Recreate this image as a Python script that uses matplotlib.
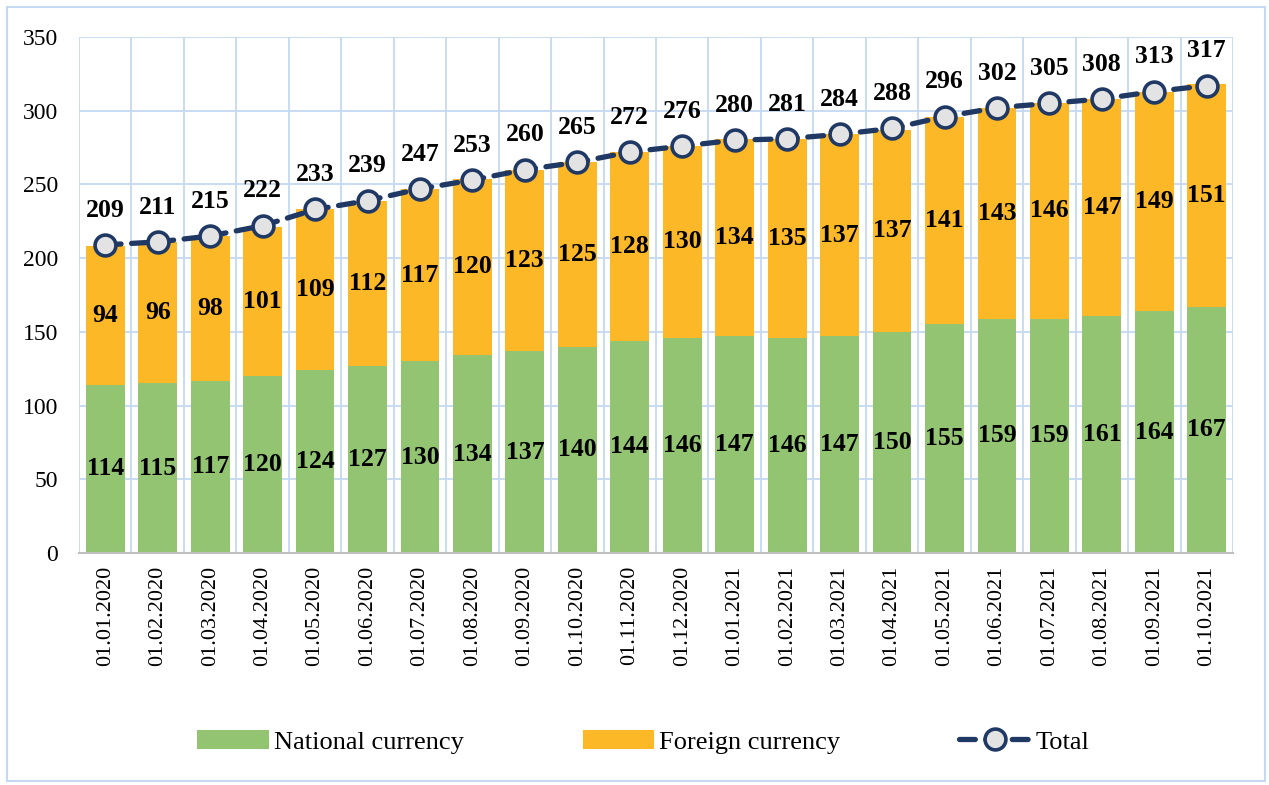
import matplotlib.pyplot as plt
import matplotlib.patches as mpatches
import numpy as np

dates = ['01.01.2020', '01.02.2020', '01.03.2020', '01.04.2020', '01.05.2020', '01.06.2020',
         '01.07.2020', '01.08.2020', '01.09.2020', '01.10.2020', '01.11.2020', '01.12.2020',
         '01.01.2021', '01.02.2021', '01.03.2021', '01.04.2021', '01.05.2021', '01.06.2021',
         '01.07.2021', '01.08.2021', '01.09.2021', '01.10.2021']
national = [114, 115, 117, 120, 124, 127, 130, 134, 137, 140, 144, 146,
            147, 146, 147, 150, 155, 159, 159, 161, 164, 167]
foreign = [94, 96, 98, 101, 109, 112, 117, 120, 123, 125, 128, 130,
           134, 135, 137, 137, 141, 143, 146, 147, 149, 151]
total = [209, 211, 215, 222, 233, 239, 247, 253, 260, 265, 272, 276,
         280, 281, 284, 288, 296, 302, 305, 308, 313, 317]

plt.rcParams['font.family'] = ['Liberation Serif', 'DejaVu Serif']

GREEN = '#93C472'
ORANGE = '#FDB827'
NAVY = '#1F3864'
GRID = '#C5D9F1'

fig = plt.figure(figsize=(12.69, 7.85), dpi=100)
ax = fig.add_axes([79/1269, 1-553/785, (1233-79)/1269, (553-37)/785])

x = np.arange(len(dates))
w = 0.74
b1 = ax.bar(x, national, w, color=GREEN, label='National currency', zorder=2)
b2 = ax.bar(x, foreign, w, bottom=national, color=ORANGE, label='Foreign currency', zorder=2)
ln, = ax.plot(x, total, color=NAVY, lw=3.8, linestyle=(0, (3.0, 2.0)), dash_capstyle='round',
              marker='o', ms=15, mfc='#E3E3E3', mec=NAVY, mew=2.6, label='Total', zorder=4)

for i in range(len(x)):
    ax.text(x[i], national[i]/2, str(national[i]), ha='center', va='center',
            fontsize=18.5, fontweight='bold', zorder=5)
    ax.text(x[i], national[i] + foreign[i]/2, str(foreign[i]), ha='center', va='center',
            fontsize=18.5, fontweight='bold', zorder=5)
    ax.annotate(str(total[i]), (x[i], total[i]), xytext=(0, 25), textcoords='offset points',
                ha='center', va='center', fontsize=18.5, fontweight='bold', zorder=5)

ax.set_xlim(-0.5, len(x) - 0.5)
ax.set_ylim(0, 350)
ax.set_yticks(np.arange(0, 351, 50))
ax.set_xticks(x)
ax.set_xticklabels(dates, rotation=90, fontsize=16)
ax.set_xticks(np.arange(-0.5, len(x), 1), minor=True)
ax.tick_params(axis='y', length=0, pad=15, labelsize=17)
ax.tick_params(axis='x', which='major', length=0, pad=9)
ax.tick_params(axis='x', which='minor', length=0)
ax.grid(axis='y', color=GRID, lw=1.3, zorder=0)
ax.grid(axis='x', which='minor', color=GRID, lw=1.3, zorder=0)
ax.grid(axis='x', which='major', visible=False)
for s in ['top', 'right', 'left']:
    ax.spines[s].set_visible(False)
ax.spines['bottom'].set_color('#BFBFBF')
ax.spines['bottom'].set_linewidth(1.5)
ax.spines['bottom'].set_zorder(3)

fig.legend([b1, b2, ln], ['National currency', 'Foreign currency', 'Total'],
           loc='center', bbox_to_anchor=(0.507, 0.055), ncol=3, frameon=False,
           fontsize=19, handlelength=2.7, handletextpad=0.2, columnspacing=4.5)

fig.patches.append(mpatches.Rectangle((7/1269, 4/785), 1258/1269, 774/785, transform=fig.transFigure,
                                      fill=False, edgecolor=GRID, lw=1.5))

fig.savefig('out.png', dpi=100)
